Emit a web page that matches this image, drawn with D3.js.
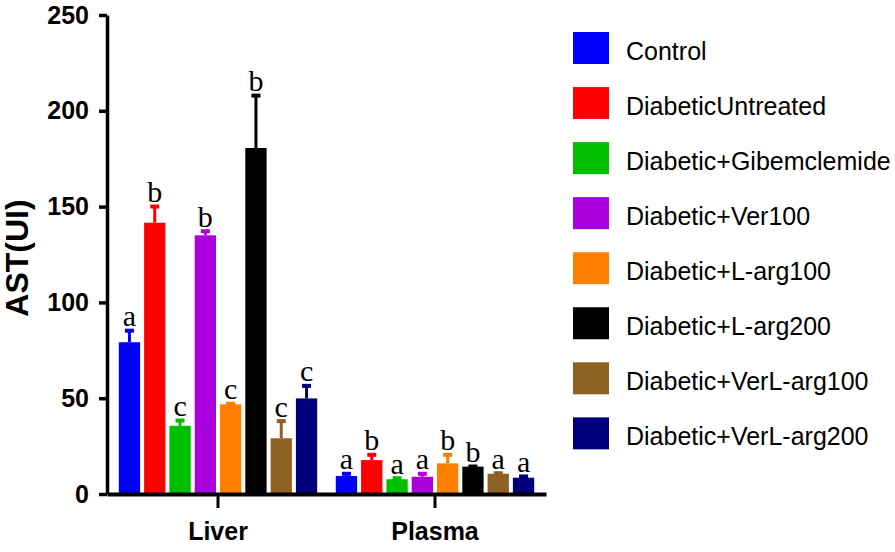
<!DOCTYPE html>
<html>
<head>
<meta charset="utf-8">
<script src="https://cdn.jsdelivr.net/npm/d3@7"></script>
<style>
  html, body { margin: 0; padding: 0; background: #fff; }
  svg { display: block; }
</style>
</head>
<body>
<svg id="chart" width="895" height="552"></svg>
<script>
// ---- data ----
const groups = ["Liver", "Plasma"];
const series = ["Control", "DiabeticUntreated", "Diabetic+Gibemclemide", "Diabetic+Ver100",
                "Diabetic+L-arg100", "Diabetic+L-arg200", "Diabetic+VerL-arg100", "Diabetic+VerL-arg200"];
const colors = ["#0000ff", "#ff0000", "#00bf00", "#aa00dd", "#ff8000", "#000000", "#8e6223", "#00007f"];
const liverValues  = [79.2, 141.6, 35.6, 135.0, 46.8, 180.6, 29.1, 49.9];
const liverErrors  = [6.3, 8.7, 3.0, 2.4, 0.6, 27.6, 9.2, 6.8];
const liverLetters = ["a", "b", "c", "b", "c", "b", "c", "c"];
const plasmaValues  = [9.4, 17.7, 7.7, 9.0, 16.0, 14.3, 10.6, 8.5];
const plasmaErrors  = [1.4, 3.0, 0.8, 1.8, 4.7, 0.3, 0.5, 0.9];
const plasmaLetters = ["a", "b", "a", "a", "b", "b", "a", "a"];
const yTicks = [0, 50, 100, 150, 200, 250];
const yLabel = "AST(UI)";

const values = [liverValues, plasmaValues];
const errors = [liverErrors, plasmaErrors];
const letters = [liverLetters, plasmaLetters];

// ---- layout ----
const svg = d3.select("#chart");
const x0 = 107, x1 = 546, yBottom = 494, yTop = 15;

const y = d3.scaleLinear().domain([0, 250]).range([yBottom, yTop]);
const xGroup = d3.scaleBand().domain(groups).range([x0, x1]).paddingInner(0.0857).paddingOuter(0.0544);
const xSeries = d3.scaleBand().domain(series).range([0, xGroup.bandwidth()]).paddingInner(0.158).paddingOuter(0);
const color = d3.scaleOrdinal().domain(series).range(colors);

const rows = [];
groups.forEach((g, gi) => series.forEach((s, si) => {
  rows.push({ g, s, v: values[gi][si], e: errors[gi][si], l: letters[gi][si] });
}));

const plot = svg.append("g");

// bars
plot.selectAll("rect.bar").data(rows).join("rect")
  .attr("class", "bar")
  .attr("x", d => xGroup(d.g) + xSeries(d.s))
  .attr("width", xSeries.bandwidth())
  .attr("y", d => y(d.v))
  .attr("height", d => y(0) - y(d.v))
  .attr("fill", d => color(d.s));

// error bars (upper only)
const cx = d => xGroup(d.g) + xSeries(d.s) + xSeries.bandwidth() / 2;
plot.selectAll("line.err").data(rows).join("line")
  .attr("class", "err")
  .attr("x1", cx).attr("x2", cx)
  .attr("y1", d => y(d.v)).attr("y2", d => y(d.v + d.e))
  .attr("stroke", d => color(d.s)).attr("stroke-width", 3);
plot.selectAll("rect.cap").data(rows).join("rect")
  .attr("class", "cap")
  .attr("x", d => cx(d) - 4.5).attr("width", 9)
  .attr("y", d => y(d.v + d.e) - 1.5).attr("height", 4)
  .attr("fill", d => color(d.s));

// letters
plot.selectAll("text.sig").data(rows).join("text")
  .attr("class", "sig")
  .attr("x", cx)
  .attr("y", d => y(d.v + d.e) - 4)
  .attr("text-anchor", "middle")
  .attr("font-family", "'Liberation Serif', 'Times New Roman', serif")
  .attr("font-size", 30)
  .attr("fill", "#000")
  .text(d => d.l);

// y axis
const yAxis = d3.axisLeft(y).tickValues(yTicks).tickSize(8).tickSizeOuter(0).tickPadding(10);
const gy = svg.append("g").attr("transform", `translate(${x0},0)`).call(yAxis);
gy.select(".domain").attr("stroke", "#000").attr("stroke-width", 3.5);
gy.selectAll(".tick line").attr("stroke", "#000").attr("stroke-width", 3.5);
gy.selectAll(".tick text")
  .attr("font-family", "'Liberation Sans', Arial, sans-serif")
  .attr("font-weight", "bold").attr("font-size", 25).attr("fill", "#000");

// x axis
const xAxis = d3.axisBottom(xGroup).tickSize(14).tickSizeOuter(0).tickPadding(14);
const gx = svg.append("g").attr("transform", `translate(0,${yBottom})`).call(xAxis);
gx.select(".domain").attr("stroke", "#000").attr("stroke-width", 4);
gx.selectAll(".tick line").attr("stroke", "#000").attr("stroke-width", 3);
gx.selectAll(".tick text")
  .attr("font-family", "'Liberation Sans', Arial, sans-serif")
  .attr("font-weight", "bold").attr("font-size", 25).attr("fill", "#000");

// y label
svg.append("text")
  .attr("transform", `translate(28,258) rotate(-90)`)
  .attr("text-anchor", "middle")
  .attr("font-family", "'Liberation Sans', Arial, sans-serif")
  .attr("font-weight", "bold").attr("font-size", 32).attr("fill", "#000")
  .text(yLabel);

// legend
const legend = svg.append("g").attr("transform", "translate(573,32)");
const li = legend.selectAll("g").data(series).join("g")
  .attr("transform", (d, i) => `translate(0,${i * 55.05})`);
li.append("rect").attr("width", 36).attr("height", 32).attr("fill", d => color(d));
li.append("text").attr("x", 53).attr("y", 28)
  .attr("font-family", "'Liberation Sans', Arial, sans-serif")
  .attr("font-size", 25).attr("fill", "#000")
  .text(d => d);
</script>
</body>
</html>
